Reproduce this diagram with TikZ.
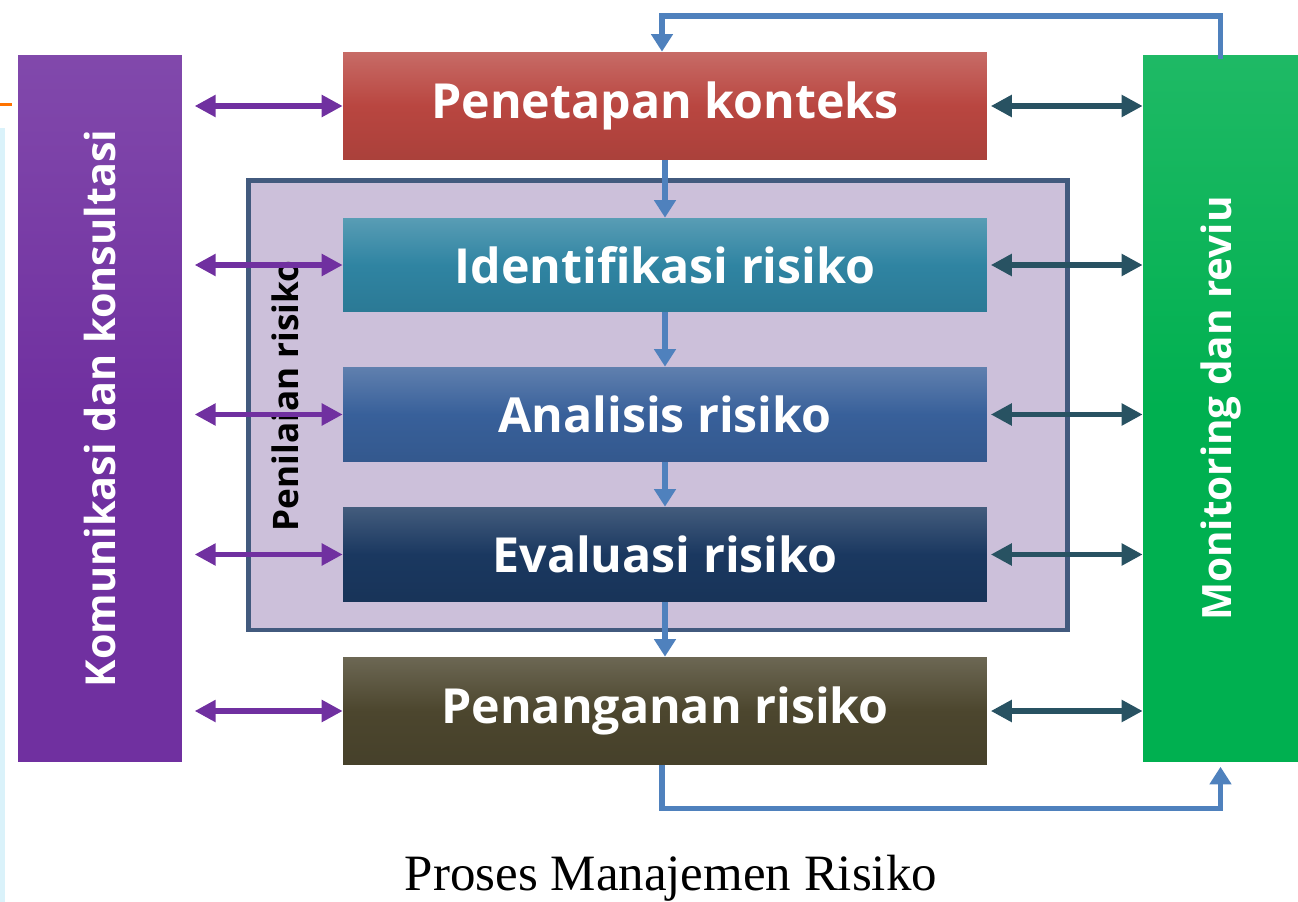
\documentclass[tikz,border=0pt]{standalone}
\usepackage{fontspec}
\setmainfont{Open Sans}
\newfontfamily\capfont{Liberation Serif}
\usetikzlibrary{arrows.meta}

\definecolor{rkred}{RGB}{185,70,64}
\definecolor{rkteal}{RGB}{47,132,162}
\definecolor{rkblue}{RGB}{56,96,154}
\definecolor{rknavy}{RGB}{26,56,96}
\definecolor{rkolive}{RGB}{76,70,46}
\definecolor{rkpurple}{RGB}{112,48,160}
\definecolor{rkgreen}{RGB}{0,176,80}
\definecolor{rklilac}{RGB}{204,192,218}
\definecolor{rkframe}{RGB}{66,90,126}
\definecolor{rkline}{RGB}{79,129,189}
\definecolor{rkdark}{RGB}{40,82,98}
\definecolor{rksky}{RGB}{218,242,250}

\begin{document}
\begin{tikzpicture}[x=0.02cm,y=-0.02cm]
			\tikzset{rkbox/.style={inner sep=0pt, minimum width=12.88cm,
						text=white, font=\bfseries\fontsize{27.5}{30}\selectfont}}
			\tikzset{rkbar/.style={inner sep=0pt, minimum width=14.14cm,
						rotate=90, text=white}}
			\tikzset{rkleft/.style={line width=3.4pt, draw=rkpurple, shorten <=7pt,
						{Triangle[width=12pt,length=12pt]}-{Triangle[width=12pt,length=12pt]}}}
			\tikzset{rkright/.style={line width=3.4pt, draw=rkdark, shorten <=2pt,
						{Triangle[width=12pt,length=12pt]}-{Triangle[width=12pt,length=12pt]}}}
			\tikzset{rkdown/.style={line width=3.2pt, draw=rkline,
						-{Triangle[width=12pt,length=10pt]}}}

				\useasboundingbox (0,0) rectangle (1298,902);
				\fill[rksky] (0,128) rectangle (5,902);
				\fill[orange!90!red] (0,103) rectangle (12,106);

				% penilaian risiko frame
				\node[draw=rkframe, line width=2.8pt, fill=rklilac, inner sep=0pt,
					minimum width=16.4cm, minimum height=9cm] (pr) at (658,405) {};
				\node[rotate=90, font=\bfseries\fontsize{20}{22}\selectfont] (prl) at (285,396) {Penilaian risiko};

				% side bars
				\node[rkbar, minimum height=3.28cm, top color=rkpurple!88!white, bottom color=rkpurple,
					middle color=rkpurple, font=\bfseries\fontsize{23.5}{26}\selectfont] (kom) at (100,408.5) {Komunikasi dan konsultasi};
				\node[rkbar, minimum height=3.1cm, top color=rkgreen!88!white, bottom color=rkgreen,
					middle color=rkgreen, font=\bfseries\fontsize{23}{26}\selectfont] (mon) at (1220.5,408.5) {Monitoring dan reviu};

				% process boxes
				\node[rkbox, minimum height=2.16cm, top color=rkred!80!white, bottom color=rkred!92!black,
					middle color=rkred] (pk) at (665,106) {Penetapan konteks};
				\node[rkbox, minimum height=1.88cm, top color=rkteal!80!white, bottom color=rkteal!92!black,
					middle color=rkteal] (ir) at (665,265) {Identifikasi risiko};
				\node[rkbox, minimum height=1.9cm, top color=rkblue!80!white, bottom color=rkblue!92!black,
					middle color=rkblue] (ar) at (665,414.5) {Analisis risiko};
				\node[rkbox, minimum height=1.9cm, top color=rknavy!82!white, bottom color=rknavy!92!black,
					middle color=rknavy] (er) at (665,554.5) {Evaluasi risiko};
				\node[rkbox, minimum height=2.16cm, top color=rkolive!82!white, bottom color=rkolive!92!black,
					middle color=rkolive] (pn) at (665,711) {Penanganan risiko};

				\node[font=\capfont\fontsize{29}{32}\selectfont] (cap) at (671,878) {Proses Manajemen Risiko};

				% flow down
				\draw[rkdown] (pk) -- (ir);
				\draw[rkdown] (ir) -- (ar);
				\draw[rkdown] (ar) -- (er);
				\draw[rkdown] (er) -- (pn);

				% feedback loops
				\draw[rkdown] ([yshift=-0.09cm]mon.east) -- ++(0,-43) -| ([xshift=-0.06cm]pk.north);
				\draw[rkdown] ([xshift=-0.06cm]pn.south) -- ++(0,43) -| ([yshift=-0.09cm]mon.west);

				% communication arrows
				\foreach \b in {pk,ir,ar,er,pn}{
					\draw[rkleft] (kom.south |- \b.west) -- (\b.west);
					\draw[rkright] (\b.east) -- (mon.north |- \b.east);
				}
		\end{tikzpicture}
\end{document}
